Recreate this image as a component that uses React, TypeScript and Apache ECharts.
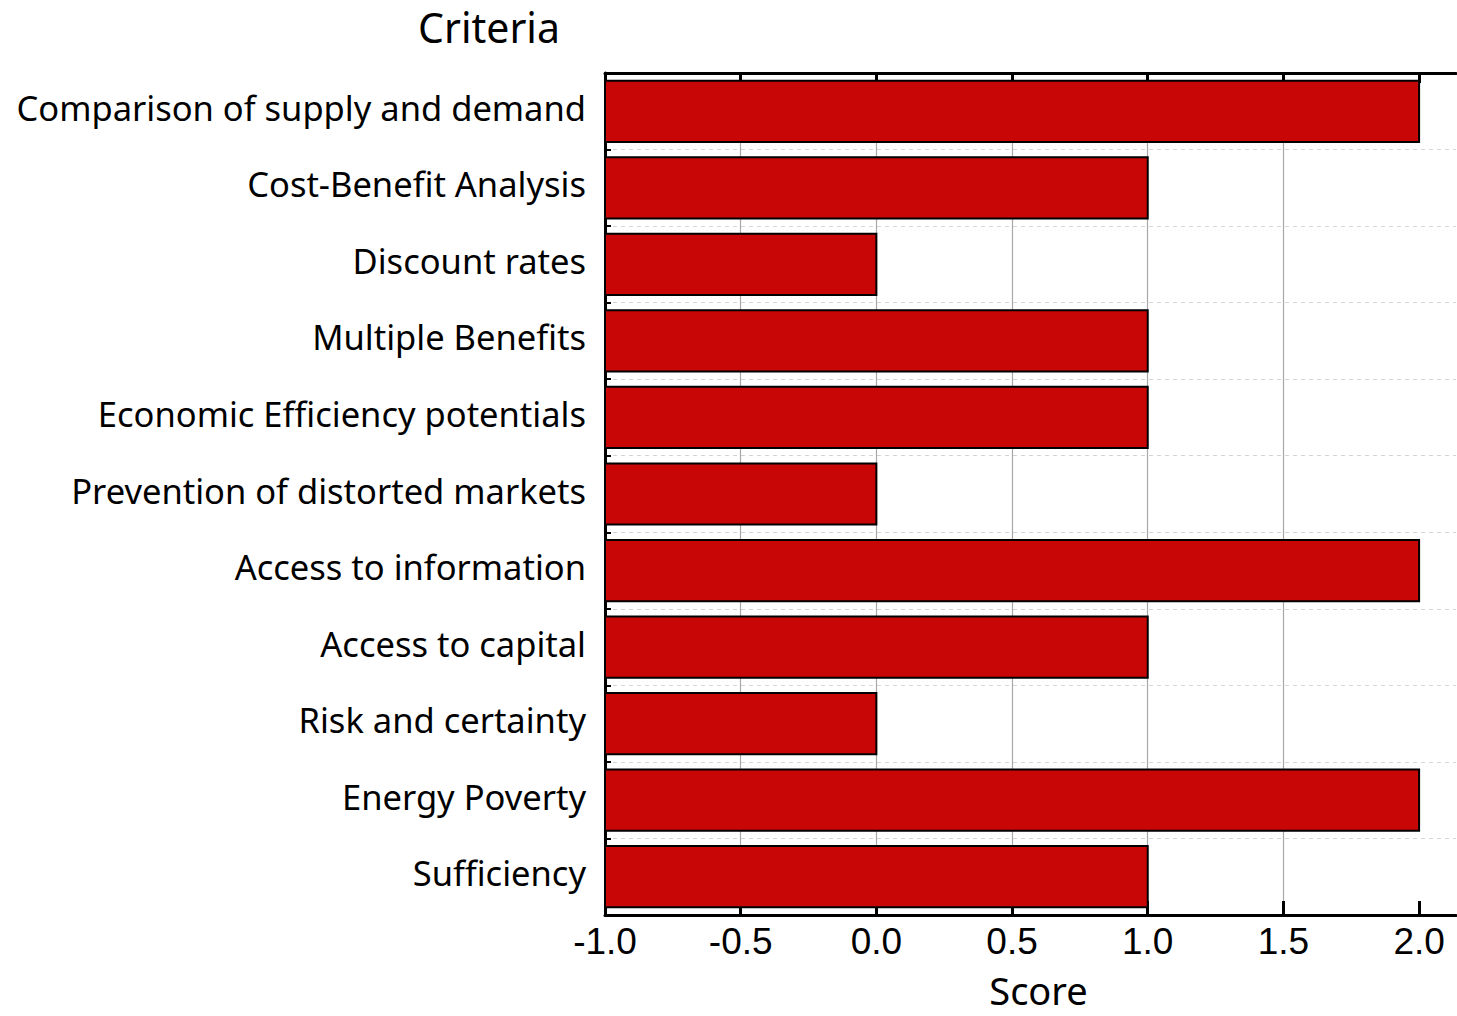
import React, { useEffect, useRef } from "react";
import * as echarts from "echarts";

const categories = [
  "Comparison of supply and demand",
  "Cost-Benefit Analysis",
  "Discount rates",
  "Multiple Benefits",
  "Economic Efficiency potentials",
  "Prevention of distorted markets",
  "Access to information",
  "Access to capital",
  "Risk and certainty",
  "Energy Poverty",
  "Sufficiency",
];
const scores = [2, 1, 0, 1, 1, 0, 2, 1, 0, 2, 1];
const tickValues = [-1, -0.5, 0, 0.5, 1, 1.5, 2];
const axisMin = -1;
const axisMax = 2.136;

export default function App() {
  const ref = useRef<HTMLDivElement>(null);
  useEffect(() => {
    if (!ref.current) return;
    const chart = echarts.init(ref.current, undefined, { renderer: "svg" });
    const barData = scores.map((v, i) => [i, v]);
    const option: any = {
      animation: false,
      backgroundColor: "#ffffff",
      title: {
        text: "Criteria",
        left: 484,
        top: 1,
        textAlign: "center",
        textStyle: { fontFamily: "Noto Sans", fontSize: 41, fontWeight: "normal", color: "#000" },
      },
      grid: { left: 605, right: 1, top: 73, bottom: 101, containLabel: false },
      xAxis: [
        {
          type: "value",
          position: "bottom",
          min: axisMin,
          max: axisMax,
          interval: 0.5,
          name: "Score",
          nameLocation: "middle",
          nameGap: 58,
          nameTextStyle: {
            fontFamily: "Noto Sans",
            fontSize: 38,
            lineHeight: 34,
            color: "#000",
            padding: [0, 0, 0, 16],
          },
          axisLine: { show: true, onZero: false, lineStyle: { color: "#000", width: 3 } },
          axisTick: {
            show: true,
            inside: true,
            length: 14,
            lineStyle: { color: "#000", width: 3 },
            customValues: tickValues,
          },
          axisLabel: {
            show: true,
            fontFamily: "Liberation Sans",
            fontSize: 37,
            color: "#000",
            margin: 8,
            customValues: tickValues,
            formatter: (v: number) => v.toFixed(1),
          },
          splitLine: {
            show: true,
            showMinLine: false,
            showMaxLine: false,
            lineStyle: { color: "#a8a8a8", width: 1.2, type: "solid" },
          },
        },
        {
          type: "value",
          position: "top",
          min: axisMin,
          max: axisMax,
          interval: 0.5,
          axisLine: { show: true, onZero: false, lineStyle: { color: "#000", width: 3 } },
          axisTick: {
            show: true,
            inside: true,
            length: 10,
            lineStyle: { color: "#000", width: 3 },
            customValues: tickValues,
          },
          axisLabel: { show: false },
          splitLine: { show: false },
        },
      ],
      yAxis: {
        type: "category",
        data: categories,
        inverse: true,
        axisLine: { show: true, onZero: false, lineStyle: { color: "#000", width: 3 } },
        axisTick: { show: true, inside: true, length: 6, lineStyle: { color: "#000", width: 2 } },
        axisLabel: {
          fontFamily: "Noto Sans",
          fontSize: 34.5,
          color: "#000",
          margin: 19,
          formatter: (v: string) => "{a|" + v + "}",
          rich: {
            a: {
              fontFamily: "Noto Sans",
              fontSize: 34.5,
              color: "#000",
              padding: [0, 0, 8, 0],
            },
          },
        },
        splitLine: { show: true, lineStyle: { color: "#d4d4d4", width: 1, type: [4, 4] } },
      },
      series: [
        {
          type: "custom",
          xAxisIndex: 0,
          yAxisIndex: 0,
          data: barData,
          encode: { x: 1, y: 0 },
          renderItem: (params: any, api: any) => {
            const idx = api.value(0);
            const val = api.value(1);
            const start = api.coord([axisMin, idx]);
            const end = api.coord([val, idx]);
            const band = api.size([0, 1])[1];
            const h = band * 0.8;
            return {
              type: "rect",
              shape: { x: start[0], y: start[1] - h / 2, width: end[0] - start[0], height: h },
              style: { fill: "#c90606", stroke: "#000", lineWidth: 2 },
            };
          },
          z: 3,
        },
      ],
    };
    chart.setOption(option);
    return () => chart.dispose();
  }, []);
  return (
    <div
      ref={ref}
      style={{ position: "fixed", left: 0, top: 0, width: 1457, height: 1016, background: "#fff" }}
    />
  );
}
